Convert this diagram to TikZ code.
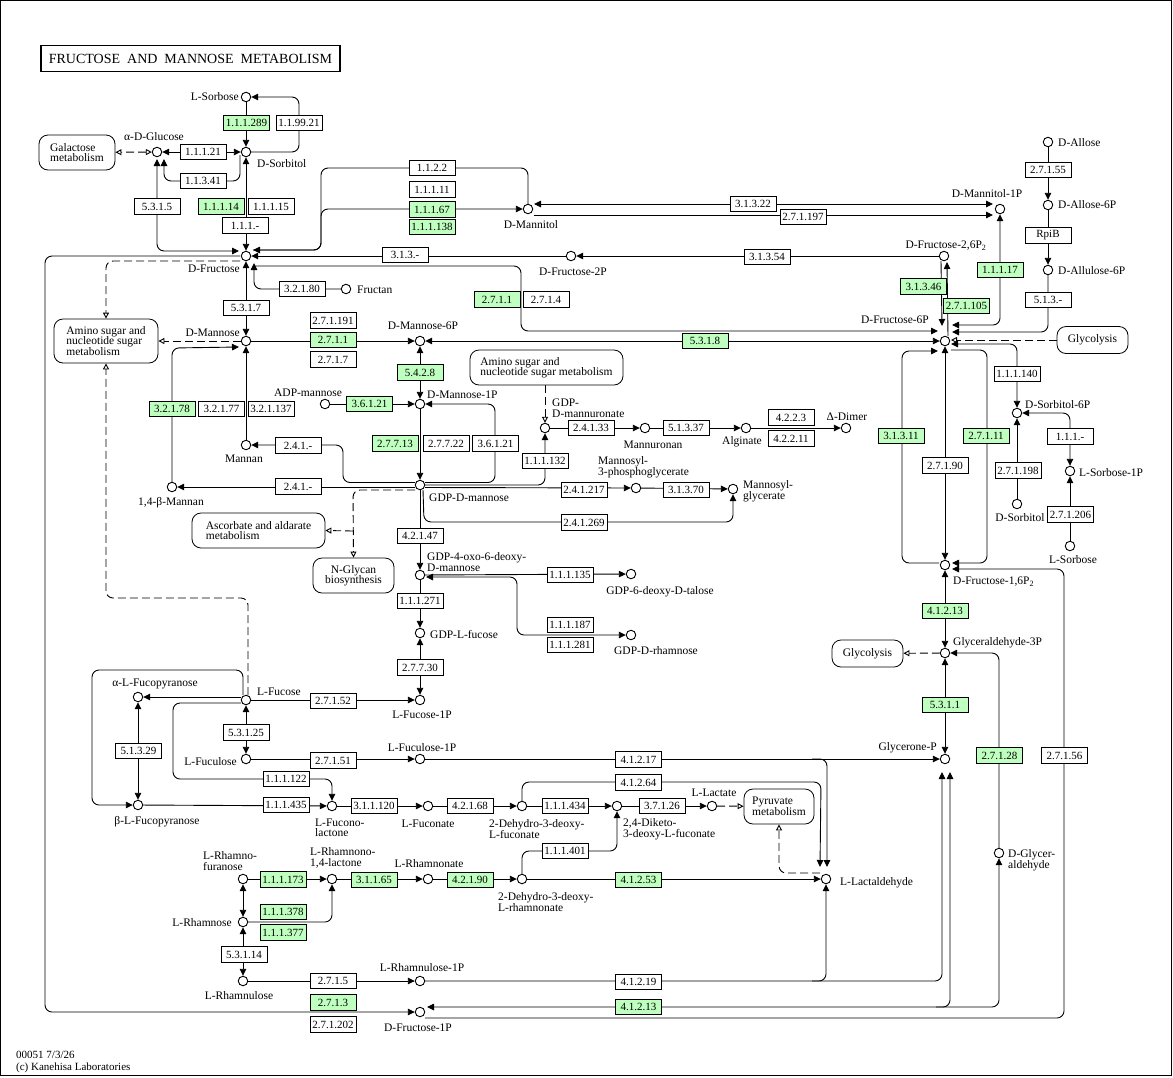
\documentclass[tikz,border=0pt]{standalone}
\usepackage{fontspec}
\setmainfont{Liberation Serif}
\usetikzlibrary{arrows.meta,calc,backgrounds}
\definecolor{EnzGreen}{RGB}{191,255,191}
\tikzset{
  cpd/.style={circle,draw=black,line width=0.9pt,fill=white,minimum size=9.5pt,inner sep=0pt},
  enz/.style={draw=black,line width=0.8pt,fill=white,minimum width=46pt,minimum height=15.5pt,
              inner sep=0pt,font=\fontsize{11pt}{11pt}\selectfont},
  enzg/.style={enz,fill=EnzGreen},
  mapbox/.style={draw=black,line width=0.8pt,fill=white,rounded corners=9pt,align=left,
                 inner sep=0pt,font=\fontsize{11.5pt}{10.5pt}\selectfont},
  lbl/.style={inner sep=0pt,align=left,font=\fontsize{11.5pt}{10.5pt}\selectfont},
  rxn/.style={line width=0.9pt,rounded corners=7pt},
  fw/.style={rxn,-{Triangle[length=7pt,width=6.5pt]}},
  bw/.style={rxn,{Triangle[length=7pt,width=6.5pt]}-{Triangle[length=7pt,width=6.5pt]}},
  lnk/.style={line width=0.9pt,dash pattern=on 8pt off 4pt,rounded corners=7pt,
              -{Triangle[open,length=6pt,width=6pt]}},
  lnkb/.style={lnk,{Triangle[open,length=6pt,width=6pt]}-{Triangle[open,length=6pt,width=6pt]}},
}
\begin{document}
\begin{tikzpicture}[x=1pt,y=-1pt]
  \useasboundingbox (0,0) rectangle (1173,1077);
  \draw[line width=1pt] (0.5,0.5) rectangle (1171.5,1075.5);

  % title
  \node[draw,line width=1.8pt,minimum width=299pt,minimum height=26pt,inner sep=0pt,
        font=\fontsize{14pt}{14pt}\selectfont] (title) at (190.5,58.5)
    {FRUCTOSE\ \ AND\ \ MANNOSE\ \ METABOLISM};

  % compounds
  \foreach \n/\x/\y in {LSor/246/97, aGlc/157/152, DSor/246/152, DFru/246/256,
      DMtl/528/209, DMtl1P/1000/209, DFru2P/571/256, DFru26/944/256, DFru6P/945/341,
      Fructan/346/289, DMan/246/341, DMan6P/420/341, DMan1P/420/404, ADPMan/325/404,
      Mannan/246/445, bMannan/172/487, GDPMan/420/485, GDPManA/545/428,
      Mannuronan/645/428, Alginate/746/428, Dimer/846/428, M3PG/636/488, MG/733/489,
      GDP4oxo/420/575, GDP6dT/631/574, GDPLFuc/420/633, GDPDRha/631/635,
      LFuc/246/700, LFuc1P/420/700, aLFuc/138/697, LFcl/246/759, LFcl1P/420/759,
      bLFuc/138/805, LFcLac/332/806, LFcn/428/806, DDLF/522/806, DKDLF/617/806,
      LLac/712/806, LLald/826/879, LRhaF/243/879, LRhaLac/332/879, LRhaA/428/879,
      DDLR/522/879, LRha/243/922, LRhu/243/981, LRhu1P/420/981, DFru1P/420/1012,
      DFru16/945/565, GA3P/945/653, DHAP/945/759, DGA/999/853, DAll/1048/142,
      DAll6P/1048/205, DAlu6P/1048/270, DSor6P/1017/413, LSor1P/1070/471,
      DSorR/1017/504, LSorR/1070/546}
    \node[cpd] (\n) at (\x,\y) {};

  % enzymes
  \foreach \n/\x/\y/\t in {e119921/299/123/1.1.99.21, e11121/203/152/1.1.1.21,
      e11341/203/181/1.1.3.41, e5315/157/206.5/5.3.1.5, e11115/271/206.5/1.1.1.15,
      e111x/245/225.5/1.1.1.-, e1122/432/168/1.1.2.2, e11111/432/189.5/1.1.1.11,
      e5317/246/308/5.3.1.7, e32180/302/289/3.2.1.80, e313x/405/255/3.1.3.-,
      e2714/546/299.5/2.7.1.4, e271191/333/320.5/2.7.1.191, e2717/333/359.5/2.7.1.7,
      e31322/753/204/3.1.3.22, e271197/803/217/2.7.1.197, e31354/767/257/3.1.3.54,
      e32177/221.5/409/3.2.1.77, e321137/271/409/3.2.1.137, e27722/446/443.5/2.7.7.22,
      e36121b/495.5/443.5/3.6.1.21, e241xa/298/445.5/2.4.1.-, e241xb/298/486.5/2.4.1.-,
      e111132/545/461/1.1.1.132, e24133/591/428/2.4.1.33, e51337/686/428/5.1.3.37,
      e4223/791/417.5/4.2.2.3, e42211/791/438.5/4.2.2.11, e241217/584/490/2.4.1.217,
      e31370/686/490/3.1.3.70, e241269/584/522.5/2.4.1.269, e42147/420/536/4.2.1.47,
      e111135/570/575/1.1.1.135, e111271/420/601/1.1.1.271, e111187/570/625/1.1.1.187,
      e111281/570/645/1.1.1.281, e27730/420/667.5/2.7.7.30, e27152/333/701/2.7.1.52,
      e53125/246/732.5/5.3.1.25, e51329/138.5/751/5.1.3.29, e27151/333/760.5/2.7.1.51,
      e111122/286/779/1.1.1.122, e111435/286/805/1.1.1.435, e311120/374/806/3.1.1.120,
      e42168/470/806/4.2.1.68, e111434/565/806/1.1.1.434, e37126/662/806/3.7.1.26,
      e41217/638.5/759.5/4.1.2.17, e41264/638.5/782.5/4.1.2.64, e111401/565/851/1.1.1.401,
      e53114/244/954.5/5.3.1.14, e2715/333/981/2.7.1.5, e271202/333/1024.5/2.7.1.202,
      e41219/638.5/982/4.1.2.19, e27155/1048/170/2.7.1.55, eRpiB/1048/235.5/RpiB,
      e513x/1048/300/5.1.3.-, e111140/1017/374/1.1.1.140, e27190/945/465.5/2.7.1.90,
      e271198/1018/470.5/2.7.1.198, e111xb/1070/436.5/1.1.1.-,
      e271206/1070.5/514.5/2.7.1.206, e27156/1064.5/755.5/2.7.1.56}
    \node[enz] (\n) at (\x,\y) {\t};
  \foreach \n/\x/\y/\t in {e111289/246.5/123/1.1.1.289, e11114/221/206.5/1.1.1.14,
      e11167/432/209.5/1.1.1.67, e111138/432/227/1.1.1.138, e2711a/497/299.5/2.7.1.1,
      e2711b/333/340/2.7.1.1, e5318/705/341/5.3.1.8, e31346/923.5/286.5/3.1.3.46,
      e271105/966.5/306/2.7.1.105, e11117/1000/270/1.1.1.17, e32178/172/409/3.2.1.78,
      e36121a/369.5/404/3.6.1.21, e5428/420/372.5/5.4.2.8, e27713/395/443.5/2.7.7.13,
      e111173/283/879.5/1.1.1.173, e111378/283/912/1.1.1.378, e111377/283/932.5/1.1.1.377,
      e31165/374/880/3.1.1.65, e42190/470/880/4.2.1.90, e41253/638.5/880/4.1.2.53,
      e2713/333/1002.5/2.7.1.3, e41213b/638.5/1007/4.1.2.13, e31311/901/436/3.1.3.11,
      e27111/986/436/2.7.1.11, e41213a/945/611/4.1.2.13, e5311/945/705/5.3.1.1,
      e27128/999.5/755.5/2.7.1.28}
    \node[enzg] (\n) at (\x,\y) {\t};

  % linked maps
  \node[mapbox,minimum width=76pt,minimum height=35pt] (Galac) at (77,152.5)
    {Galactose\\metabolism};
  \node[mapbox,minimum width=104pt,minimum height=44pt] (AminoL) at (106,341)
    {Amino sugar and\\nucleotide sugar\\metabolism};
  \node[mapbox,minimum width=153pt,minimum height=35pt] (AminoM) at (546.5,367.5)
    {Amino sugar and\\nucleotide sugar metabolism};
  \node[mapbox,minimum width=133pt,minimum height=35pt] (Ascorb) at (258.5,530.5)
    {Ascorbate and aldarate\\metabolism};
  \node[mapbox,minimum width=81pt,minimum height=35pt,align=center] (NGlycan) at (353.5,575.5)
    {N-Glycan\\biosynthesis};
  \node[mapbox,minimum width=70pt,minimum height=35pt] (Pyruv) at (779,806.5)
    {Pyruvate\\metabolism};
  \node[mapbox,minimum width=71pt,minimum height=27pt] (GlycR) at (1092.5,340) {Glycolysis};
  \node[mapbox,minimum width=71pt,minimum height=27pt] (GlycL) at (867.5,653.5) {Glycolysis};

  % compound names
  \foreach \n/\a/\x/\y/\t in {tLSor/east/239/97/L-Sorbose, taGlc/center/154/137/α-D-Glucose,
      tDSor/west/257/164/D-Sorbitol, tDFru/east/240/269/D-Fructose,
      tDMtl/center/531/225/D-Mannitol, tDMtl1P/center/987/194/D-Mannitol-1P,
      tDFru2P/center/573/272/D-Fructose-2P, tDFru26/center/946/246/{D-Fructose-2,6P\textsubscript{2}},
      tDFru6P/center/895/320/D-Fructose-6P, tFructan/west/357/290/Fructan,
      tDMan/east/240/333/D-Mannose, tDMan6P/center/423/326/D-Mannose-6P,
      tDMan1P/west/427/395/D-Mannose-1P, tADPMan/center/308/393/ADP-mannose,
      tMannan/center/244/459/Mannan, tbMannan/center/171/503/{1,4-β-Mannan},
      tGDPMan/west/429/498/GDP-D-mannose, tGDPManA/west/552/408/{GDP-\\D-mannuronate},
      tMannuronan/center/653/445/Mannuronan, tAlginate/center/742/442/Alginate,
      tDimer/center/847/417/Δ-Dimer, tM3PG/west/598/467/{Mannosyl-\\3-phosphoglycerate},
      tMG/west/743/491/{Mannosyl-\\glycerate}, tGDP4oxo/west/427/562/{GDP-4-oxo-6-deoxy-\\D-mannose},
      tGDP6dT/center/660/592/GDP-6-deoxy-D-talose, tGDPLFuc/west/430/634/GDP-L-fucose,
      tGDPDRha/center/656/651/GDP-D-rhamnose, tLFuc/west/257/692/L-Fucose,
      tLFuc1P/center/422/715/L-Fucose-1P, taLFuc/center/155/684/α-L-Fucopyranose,
      tLFcl/east/237/762/L-Fuculose, tLFcl1P/center/422/748/L-Fuculose-1P,
      tbLFuc/center/157/822/β-L-Fucopyranose, tLFcLac/west/315/828/{L-Fucono-\\lactone},
      tLFcn/center/428/824/L-Fuconate, tDDLF/west/489/829/{2-Dehydro-3-deoxy-\\L-fuconate},
      tDKDLF/west/623/829/{2,4-Diketo-\\3-deoxy-L-fuconate}, tLLac/center/714/793/L-Lactate,
      tLLald/west/840/883/L-Lactaldehyde, tLRhaF/west/203/861/{L-Rhamno-\\furanose},
      tLRhaLac/west/310/858/{L-Rhamnono-\\1,4-lactone}, tLRhaA/center/429/864/L-Rhamnonate,
      tDDLR/west/498/902/{2-Dehydro-3-deoxy-\\L-rhamnonate}, tLRha/east/232/923/L-Rhamnose,
      tLRhu/center/239/996/L-Rhamnulose, tLRhu1P/center/422/968/L-Rhamnulose-1P,
      tDFru1P/center/418/1028/D-Fructose-1P, tDFru16/west/953/582/{D-Fructose-1,6P\textsubscript{2}},
      tGA3P/west/953/643/Glyceraldehyde-3P, tDHAP/east/937/748/Glycerone-P,
      tDGA/west/1008/860/{D-Glycer-\\aldehyde}, tDAll/west/1058/143/D-Allose,
      tDAll6P/west/1058/205/D-Allose-6P, tDAlu6P/west/1058/271/D-Allulose-6P,
      tDSor6P/west/1025/405/D-Sorbitol-6P, tLSor1P/west/1079/473/L-Sorbose-1P,
      tDSorR/center/1020/518/D-Sorbitol, tLSorR/center/1073/560/L-Sorbose}
    \node[lbl,anchor=\a] (\n) at (\x,\y) {\t};

  \node[lbl,anchor=west,font=\fontsize{11pt}{11pt}\selectfont] (stamp) at (16,1055) {00051 7/3/26};
  \node[lbl,anchor=west,font=\fontsize{11pt}{11pt}\selectfont] (copy) at (16,1067.5) {(c) Kanehisa Laboratories};

  % junctions for branching arrows
  \coordinate (jLac1) at (812,759);
  \coordinate (jLac2) at (812,981);
  \coordinate (jDGA) at (936,1007);
  \coordinate (jAsc) at (353,531);

  \begin{scope}[on background layer]
    % sorbose, sorbitol, glucose
    \draw[fw] (LSor) -- (DSor);
    \draw[fw] (DSor) -- (299,152) -- (299,97) -- (LSor);
    \draw[bw] (aGlc) -- (DSor);
    \draw[fw] ($(DSor)+(-6,3)$) -- (240,181) -- (164,181) -- ($(aGlc)+(7,7)$);
    \draw[bw] ($(aGlc)+(0,7)$) -- (157,251) -- ($(DFru)+(-7,-5)$);
    \draw[lnkb] (aGlc) -- (Galac);
    \draw[bw] (DSor) -- (DFru);
    \draw[bw] (DFru) -- (DMan);
    \draw[fw] (Fructan) -- (254,289) -- ($(DFru)+(8,7)$);
    % mannitol
    \draw[fw] (DMtl) -- (528,168) -- (321,168) -- (321,250) -- ($(DFru)+(7,-6)$);
    \draw[fw] ($(DFru)+(7,-6)$) -- (321,250) -- (321,209) -- (DMtl);
    \draw[bw] ($(DMtl)+(6,-5)$) -- ($(DMtl1P)+(-7,-5)$);
    \draw[fw] ($(DMtl)+(6,6)$) -- ($(DMtl1P)+(-7,6)$);
    \draw[bw] (DMtl1P) -- (1000,325) -- ($(DFru6P)+(7,-16)$);
    % fructose phosphates
    \draw[fw] (DFru2P) -- (DFru);
    \draw[fw] (DFru26) -- (DFru2P);
    \draw[fw] ($(DFru)+(8,10)$) -- (521,266) -- (521,331) -- ($(DFru6P)+(-7,-10)$);
    \draw[fw] ($(DFru26)+(-3,5)$) -- ($(DFru6P)+(-3,-15)$);
    \draw[fw] ($(DFru6P)+(3,-5)$) -- ($(DFru26)+(3,6)$);
    \draw[fw] (DAll) -- (DAll6P);
    \draw[fw] (DAll6P) -- (DAlu6P);
    \draw[fw] (DAlu6P) -- (1048,332) -- ($(DFru6P)+(7,-9)$);
    \draw[lnk] (GlycR) -- ($(DFru6P)+(6,-1)$);
    \draw[bw] ($(DFru6P)+(6,3)$) -- (1017,344) -- (DSor6P);
    \draw[fw] (DSorR) -- (DSor6P);
    \draw[bw] (DSor6P) -- (1070,413) -- (LSor1P);
    \draw[fw] (LSorR) -- (LSor1P);
    \draw[bw] (DFru6P) -- (DFru16);
    \draw[fw] ($(DFru16)+(-6,-2)$) -- (902,563) -- (902,351) -- ($(DFru6P)+(-7,10)$);
    \draw[fw] ($(DFru6P)+(6,9)$) -- (987,350) -- (987,563) -- ($(DFru16)+(7,-2)$);
    \draw[bw] (DFru16) -- (GA3P);
    \draw[bw] (GA3P) -- (DHAP);
    \draw[lnk] (GA3P) -- (GlycL);
    \draw[fw] (DGA) -- (999,653) -- (GA3P);
    % mannose
    \draw[bw] (DMan6P) -- (DFru6P);
    \draw[fw] (DMan) -- (DMan6P);
    \draw[lnk] (DMan) -- (AminoL);
    \draw[lnk] ($(DFru)+(-6,5)$) -- (106,261) -- (AminoL.north);
    \draw[bw] (DMan6P) -- (DMan1P);
    \draw[fw] (ADPMan) -- (DMan1P);
    \draw[fw] (DMan1P) -- (GDPMan);
    \draw[fw] ($(GDPMan)+(5,-2.5)$) -- (495,482.5) -- (495,404) -- (DMan1P);
    \draw[fw] ($(GDPMan)+(-5,-2.5)$) -- (343,482.5) -- (343,445) -- (Mannan);
    \draw[fw] ($(GDPMan)+(-5,2)$) -- (bMannan);
    \draw[fw] (Mannan) -- (DMan);
    \draw[fw] (bMannan) -- (172,348) -- ($(DMan)+(-7,6)$);
    \draw[fw] ($(GDPMan)+(5,0)$) -- (545,485) -- (GDPManA);
    \draw[fw] ($(GDPMan)+(5,2.5)$) -- (M3PG);
    \draw[fw] (M3PG) -- (MG);
    \draw[fw] ($(GDPMan)+(3,5)$) -- (424,522) -- (733,522) -- (MG);
    \draw[fw] (GDPManA) -- (Mannuronan);
    \draw[fw] (Mannuronan) -- (Alginate);
    \draw[fw] (Alginate) -- (Dimer);
    \draw[lnk] (AminoM.south -| GDPManA) -- (GDPManA);
    \draw[lnk] ($(GDPMan)+(-5,5)$) -- (353,490) -- (NGlycan.north);
    \draw[lnk] (jAsc) -- (Ascorb.east);
    \draw[fw] (GDPMan) -- (GDP4oxo);
    \draw[fw] (GDP4oxo) -- (GDP6dT);
    \draw[fw] (GDP4oxo) -- (GDPLFuc);
    \draw[bw] ($(GDP4oxo)+(6,2)$) -- (517,577) -- (517,635) -- (GDPDRha);
    % fucose
    \draw[bw] (LFuc1P) -- (GDPLFuc);
    \draw[fw] (LFuc) -- (LFuc1P);
    \draw[lnk] ($(LFuc)+(2,-5)$) -- (248,598) -- (106,598) -- (AminoL.south);
    \draw[fw] ($(LFuc)+(-5,-3)$) -- (aLFuc);
    \draw[fw] ($(LFuc)+(-3,-5)$) -- (243,670) -- (92,670) -- (92,805) -- (bLFuc);
    \draw[bw] (aLFuc) -- (bLFuc);
    \draw[fw] ($(LFuc)+(-5,3)$) -- (173,703) -- (173,779) -- (332,779) -- (LFcLac);
    \draw[bw] (LFuc) -- (LFcl);
    \draw[fw] (LFcl) -- (LFcl1P);
    \draw[fw] (bLFuc) -- (LFcLac);
    \draw[fw] (LFcLac) -- (LFcn);
    \draw[fw] (LFcn) -- (DDLF);
    \draw[fw] (DDLF) -- (DKDLF);
    \draw[fw] (DKDLF) -- (LLac);
    \draw[lnk] (LLac) -- (Pyruv);
    \draw[fw] (DDLF) -- (522,782) -- (821,782) -- ($(LLald)+(-6,-12)$);
    \draw[fw] (LFcl1P) -- (DHAP);
    \draw[fw] (jLac1) -- (827,759) -- ($(LLald)+(1,-12)$);
    % rhamnose
    \draw[fw] (DDLR) -- (522,851) -- (617,851) -- (DKDLF);
    \draw[fw] (DDLR) -- (LLald);
    \draw[lnk] ($(LLald)+(-6,-6)$) -- (779,873) -- (Pyruv.south);
    \draw[fw] (LRhaF) -- (LRhaLac);
    \draw[bw] (LRhaF) -- (LRha);
    \draw[fw] (LRha) -- (332,922) -- (LRhaLac);
    \draw[fw] (LRhaLac) -- (LRhaA);
    \draw[fw] (LRhaA) -- (DDLR);
    \draw[bw] (LRha) -- (LRhu);
    \draw[fw] (LRhu) -- (LRhu1P);
    \draw[fw] (LRhu1P) -- (942,981) -- ($(DHAP)+(-3,13)$);
    \draw[fw] (jLac2) -- (826,981) -- (LLald);
    % fructose-1P
    \draw[fw] ($(DFru)+(-6,0)$) -- (45,256) -- (45,1012) -- (DFru1P);
    \draw[bw] ($(DFru1P)+(7,-5)$) -- (950,1007) -- ($(DHAP)+(5,13)$);
    \draw[fw] (jDGA) -- (999,1007) -- (DGA);
    \draw[fw] ($(DFru1P)+(5,6)$) -- (1064,1018) -- (1064,569) -- ($(DFru16)+(7,4)$);
  \end{scope}
\end{tikzpicture}
\end{document}
